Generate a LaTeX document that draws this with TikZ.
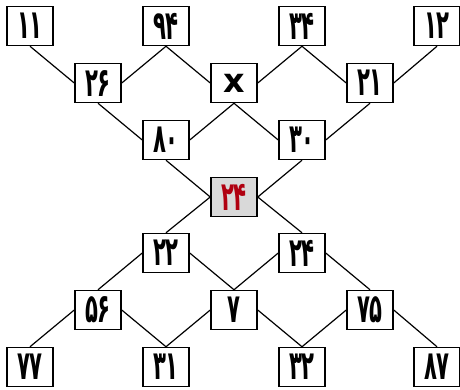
\documentclass[tikz,border=0pt]{standalone}
\usepackage{graphicx}
\usepackage{fontspec}
\newfontfamily\fa[Script=Arabic]{DejaVu Sans}
\setsansfont{DejaVu Sans}
\definecolor{hlred}{HTML}{B00010}
\definecolor{hlgray}{HTML}{D9D9D9}
\newcommand\dg[1]{\scalebox{0.92}[1.75]{#1}}
\begin{document}
\begin{tikzpicture}[x=1pt,y=-1pt,
  numbox/.style={draw=black,line width=1.5pt,fill=white,minimum width=46pt,minimum height=39pt,inner sep=0pt,font=\fa\bfseries\fontsize{23}{26}\selectfont},
  centerbox/.style={numbox,fill=hlgray,text=hlred},
  link/.style={line width=1.2pt}]
\useasboundingbox (0,0) rectangle (460,389);
% row 1
\node[numbox] (a11) at (30,26) {\dg{۱۱}};
\node[numbox] (a94) at (166,26) {\dg{۹۴}};
\node[numbox] (a34) at (302,26) {\dg{۳۴}};
\node[numbox] (a12) at (437,26) {\dg{۱۲}};
% row 2
\node[numbox] (b26) at (98,83) {\dg{۲۶}};
\node[numbox] (bx) at (234,83) {\sffamily\bfseries\scalebox{1.45}{x}};
\node[numbox] (b21) at (370,83) {\dg{۲۱}};
% row 3
\node[numbox] (c80) at (166,140) {\dg{۸۰}};
\node[numbox] (c30) at (302,140) {\dg{۳۰}};
% center
\node[centerbox] (mid) at (234,197) {\dg{۲۴}};
% row 5
\node[numbox] (d22) at (166,253) {\dg{۲۲}};
\node[numbox] (d24) at (302,253) {\dg{۲۴}};
% row 6
\node[numbox] (e56) at (98,310) {\dg{۵۶}};
\node[numbox] (e7) at (234,310) {\dg{۷}};
\node[numbox] (e75) at (370,310) {\dg{۷۵}};
% row 7
\node[numbox] (f77) at (30,367) {\dg{۷۷}};
\node[numbox] (f31) at (166,367) {\dg{۳۱}};
\node[numbox] (f32) at (302,367) {\dg{۳۲}};
\node[numbox] (f87) at (437,367) {\dg{۸۷}};
% upper links
\draw[link] (a11.south) -- (b26.west);
\draw[link] (a94.south) -- (b26.east);
\draw[link] (a94.south) -- (bx.west);
\draw[link] (a34.south) -- (bx.east);
\draw[link] (a34.south) -- (b21.west);
\draw[link] (a12.south) -- (b21.east);
\draw[link] (b26.south) -- (c80.west);
\draw[link] (bx.south) -- (c80.east);
\draw[link] (bx.south) -- (c30.west);
\draw[link] (b21.south) -- (c30.east);
\draw[link] (c80.south) -- (mid.west);
\draw[link] (c30.south) -- (mid.east);
% lower links
\draw[link] (mid.west) -- (d22.north);
\draw[link] (mid.east) -- (d24.north);
\draw[link] (d22.west) -- (e56.north);
\draw[link] (d22.east) -- (e7.north);
\draw[link] (d24.west) -- (e7.north);
\draw[link] (d24.east) -- (e75.north);
\draw[link] (e56.west) -- (f77.north);
\draw[link] (e56.east) -- (f31.north);
\draw[link] (e7.west) -- (f31.north);
\draw[link] (e7.east) -- (f32.north);
\draw[link] (e75.west) -- (f32.north);
\draw[link] (e75.east) -- (f87.north);
\end{tikzpicture}
\end{document}
